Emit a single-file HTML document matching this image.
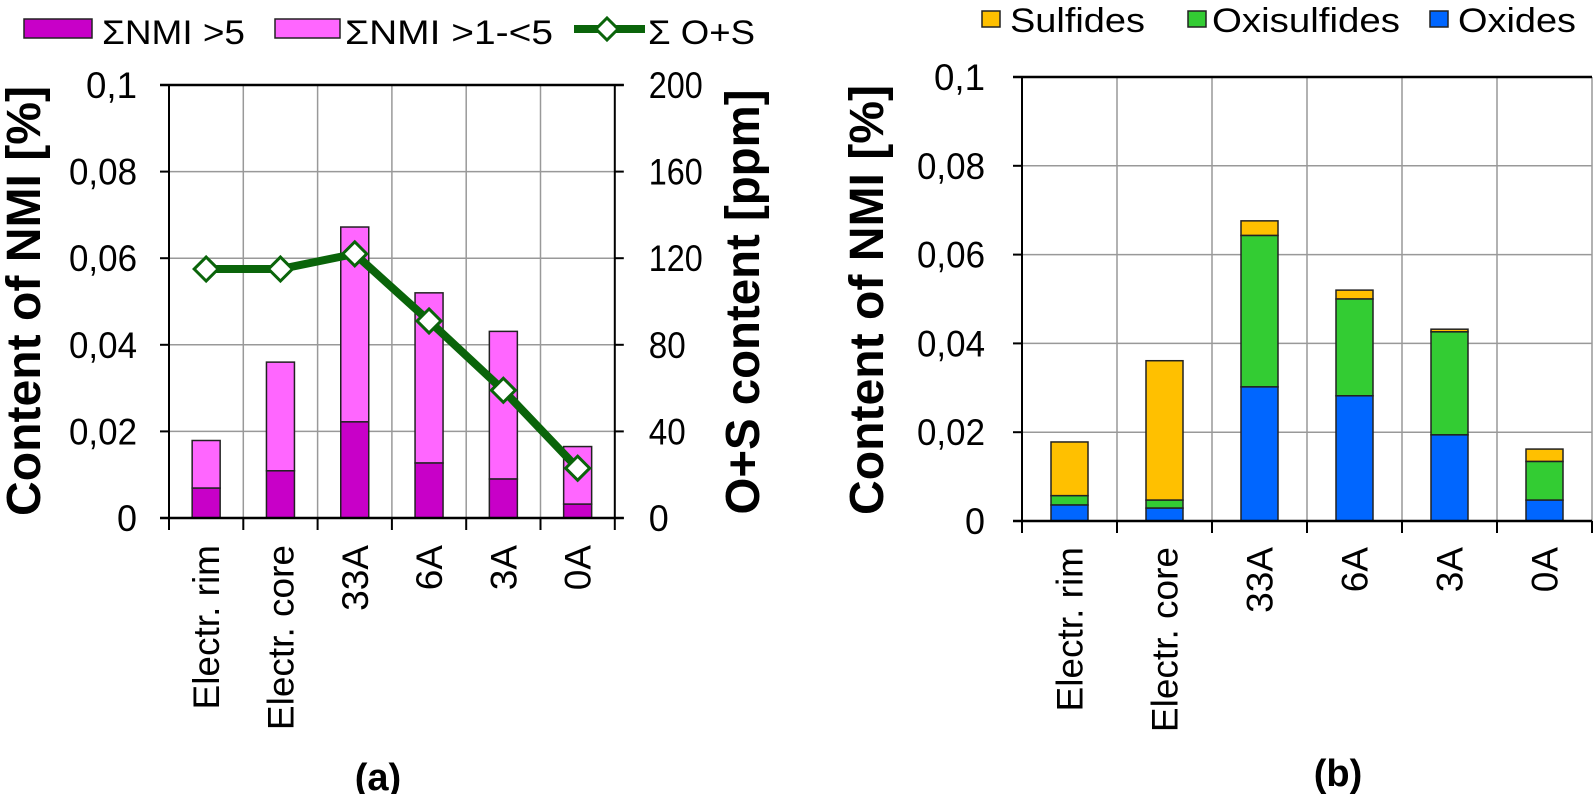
<!DOCTYPE html>
<html><head><meta charset="utf-8"><style>
body{margin:0;background:#fff;}
svg{display:block;font-family:"Liberation Sans",Arial,sans-serif;}
</style></head><body>
<svg id="s" width="1594" height="794" viewBox="0 0 1594 794"></svg>
<script>
const categories=["Electr. rim","Electr. core","33A","6A","3A","0A"];
const nmiGt5=[0.0069,0.0109,0.0222,0.0127,0.009,0.0032];
const nmiTotal=[0.0179,0.036,0.0672,0.052,0.0431,0.0165];
const osContent=[115,115,122,91,59,23];
const oxides=[0.0036,0.0029,0.0302,0.0282,0.0194,0.0047];
const oxisulfides=[0.0021,0.0018,0.0341,0.0218,0.0232,0.0087];
const sulfides=[0.0121,0.0314,0.0033,0.002,0.0006,0.0028];
const yTicks=["0","0,02","0,04","0,06","0,08","0,1"];
const y2Ticks=["0","40","80","120","160","200"];
const NS="http://www.w3.org/2000/svg";
const svg=document.getElementById('s');
function mk(tag,attrs,parent,text){const e=document.createElementNS(NS,tag);for(const k in attrs)e.setAttribute(k,attrs[k]);if(text!==undefined)e.textContent=text;(parent||svg).appendChild(e);return e;}
const TOP=85,BOT=518;
function yL(v){return BOT-(v/0.1)*(BOT-TOP);}
function y2L(v){return BOT-(v/200)*(BOT-TOP);}
const TOPR=77,BOTR=521;
function yR(v){return BOTR-(v/0.1)*(BOTR-TOPR);}
const AL=169,CWL=74.3,AR=1022,CWR=95;
function xL(i){return AL+CWL*(i+0.5);}
function xR(i){return AR+CWR*(i+0.5);}
function tw(s){return s.length<=1?20:(s.length*17);}

// ---- Chart A ----
const gA=mk('g',{});


for(let i=1;i<6;i++){const l=mk('line',{x1:AL+CWL*i,x2:AL+CWL*i,y1:TOP,y2:BOT,stroke:'#999','stroke-width':1.5},gA);}
const rightA=AL+CWL*6;
yTicks.forEach((t,i)=>{const v=i*0.02;const y=yL(v);
 if(i>0&&i<5){const g=mk('line',{x1:AL,x2:rightA,y1:y,y2:y,stroke:'#999','stroke-width':1.5},gA);}
 mk('line',{x1:AL-9,x2:AL,y1:y,y2:y,stroke:'#000','stroke-width':2},gA);
 const tx=mk('text',{x:AL-32,y:y+13,'font-size':37,'text-anchor':'end',textLength:tw(t),lengthAdjust:'spacingAndGlyphs'},gA,t);
 mk('line',{x1:rightA,x2:rightA+9,y1:y,y2:y,stroke:'#000','stroke-width':2},gA);
 const t2=mk('text',{x:rightA+34,y:y+13,'font-size':37,textLength:y2Ticks[i].length*17+3,lengthAdjust:'spacingAndGlyphs'},gA,y2Ticks[i]);
});
categories.forEach((c,i)=>{const x=xL(i),w=28;
 const b2=mk('rect',{x:x-w/2,y:yL(nmiTotal[i]),width:w,height:yL(nmiGt5[i])-yL(nmiTotal[i]),fill:'#ff66ff',stroke:'#222','stroke-width':1.5},gA);
 
 const b1=mk('rect',{x:x-w/2,y:yL(nmiGt5[i]),width:w,height:BOT-yL(nmiGt5[i]),fill:'#c800c8',stroke:'#222','stroke-width':1.5},gA);
 
 const lb=mk('text',{x:0,y:0,'font-size':37,'text-anchor':'end',transform:`translate(${x+13},545) rotate(-90)`},gA,c);
 
});
for(let i=0;i<=6;i++)mk('line',{x1:AL+CWL*i,x2:AL+CWL*i,y1:BOT,y2:BOT+12,stroke:'#000','stroke-width':2},gA);
mk('line',{x1:AL-9,x2:rightA+9,y1:TOP,y2:TOP,stroke:'#000','stroke-width':2.5},gA);
mk('line',{x1:AL,x2:AL,y1:TOP,y2:BOT,stroke:'#000','stroke-width':2},gA);
mk('line',{x1:rightA,x2:rightA,y1:TOP,y2:BOT,stroke:'#000','stroke-width':2},gA);
mk('line',{x1:AL-9,x2:rightA+9,y1:BOT,y2:BOT,stroke:'#000','stroke-width':2.5},gA);
const pts=osContent.map((v,i)=>`${xL(i)},${y2L(v)}`).join(' ');
const ln=mk('polyline',{points:pts,fill:'none',stroke:'#0a640a','stroke-width':8,'stroke-linejoin':'round'},gA);

osContent.forEach((v,i)=>{const x=xL(i),y=y2L(v),r=12;
 const m=mk('polygon',{points:`${x},${y-r} ${x+r},${y} ${x},${y+r} ${x-r},${y}`,fill:'#fff',stroke:'#0a640a','stroke-width':3},gA);
 });
const tA=mk('text',{x:0,y:0,'font-size':48,'font-weight':'bold','text-anchor':'middle',textLength:430,lengthAdjust:'spacingAndGlyphs',transform:'translate(40,301) rotate(-90)'},gA,'Content of NMI [%]');

const tA2=mk('text',{x:0,y:0,'font-size':48,'font-weight':'bold','text-anchor':'middle',textLength:425,lengthAdjust:'spacingAndGlyphs',transform:'translate(759,302) rotate(-90)'},gA,'O+S content [ppm]');

const capA=mk('text',{x:378,y:790,'font-size':38,'font-weight':'bold','text-anchor':'middle'},gA,'(a)');

// legend A
const lgA=mk('g',{},gA);
mk('rect',{x:24,y:19,width:68,height:19,fill:'#c800c8',stroke:'#222','stroke-width':1.5},lgA);
mk('text',{x:102,y:44,'font-size':34,textLength:143,lengthAdjust:'spacingAndGlyphs'},lgA,'ΣNMI >5');
mk('rect',{x:275,y:19,width:65,height:19,fill:'#ff66ff',stroke:'#222','stroke-width':1.5},lgA);
mk('text',{x:345,y:44,'font-size':34,textLength:208,lengthAdjust:'spacingAndGlyphs'},lgA,'ΣNMI >1-<5');
mk('line',{x1:574,x2:645,y1:29,y2:29,stroke:'#0a640a','stroke-width':8},lgA);
mk('polygon',{points:'607,18 618,29 607,40 596,29',fill:'#fff',stroke:'#0a640a','stroke-width':3},lgA);
mk('text',{x:648,y:44,'font-size':34,textLength:107,lengthAdjust:'spacingAndGlyphs'},lgA,'Σ O+S');

// ---- Chart B ----
const gB=mk('g',{});


const rightB=AR+CWR*6;
for(let i=1;i<=6;i++){const l=mk('line',{x1:AR+CWR*i,x2:AR+CWR*i,y1:TOPR,y2:BOTR,stroke:'#999','stroke-width':1.5},gB);}
yTicks.forEach((t,i)=>{const v=i*0.02;const y=yR(v);
 if(i>0&&i<5){const g=mk('line',{x1:AR,x2:rightB,y1:y,y2:y,stroke:'#999','stroke-width':1.5},gB);}
 mk('line',{x1:AR-9,x2:AR,y1:y,y2:y,stroke:'#000','stroke-width':2},gB);
 const tx=mk('text',{x:AR-37,y:y+13,'font-size':37,'text-anchor':'end',textLength:tw(t),lengthAdjust:'spacingAndGlyphs'},gB,t);
});
categories.forEach((c,i)=>{const x=xR(i),w=37;
 const o=oxides[i],os=o+oxisulfides[i],su=os+sulfides[i];
 const b3=mk('rect',{x:x-w/2,y:yR(su),width:w,height:yR(os)-yR(su),fill:'#ffc000',stroke:'#222','stroke-width':1.5},gB);
 
 const b2=mk('rect',{x:x-w/2,y:yR(os),width:w,height:yR(o)-yR(os),fill:'#33cc33',stroke:'#222','stroke-width':1.5},gB);
 
 const b1=mk('rect',{x:x-w/2,y:yR(o),width:w,height:BOTR-yR(o),fill:'#0066ff',stroke:'#222','stroke-width':1.5},gB);
 
 const lb=mk('text',{x:0,y:0,'font-size':37,'text-anchor':'end',transform:`translate(${x+13},547) rotate(-90)`},gB,c);
 
});
for(let i=0;i<=6;i++)mk('line',{x1:AR+CWR*i,x2:AR+CWR*i,y1:BOTR,y2:BOTR+12,stroke:'#000','stroke-width':2},gB);
mk('line',{x1:AR-9,x2:rightB,y1:TOPR,y2:TOPR,stroke:'#000','stroke-width':2.5},gB);
mk('line',{x1:AR,x2:AR,y1:TOPR,y2:BOTR,stroke:'#000','stroke-width':2},gB);
mk('line',{x1:AR-9,x2:rightB,y1:BOTR,y2:BOTR,stroke:'#000','stroke-width':2.5},gB);
const tB=mk('text',{x:0,y:0,'font-size':48,'font-weight':'bold','text-anchor':'middle',textLength:430,lengthAdjust:'spacingAndGlyphs',transform:'translate(883,300) rotate(-90)'},gB,'Content of NMI [%]');

const capB=mk('text',{x:1338,y:786,'font-size':38,'font-weight':'bold','text-anchor':'middle'},gB,'(b)');

const lgB=mk('g',{},gB);
mk('rect',{x:982,y:11,width:18,height:16,fill:'#ffc000',stroke:'#222','stroke-width':1.5},lgB);
mk('text',{x:1010,y:32,'font-size':34,textLength:135,lengthAdjust:'spacingAndGlyphs'},lgB,'Sulfides');
mk('rect',{x:1188,y:11,width:18,height:16,fill:'#33cc33',stroke:'#222','stroke-width':1.5},lgB);
mk('text',{x:1212,y:32,'font-size':34,textLength:188,lengthAdjust:'spacingAndGlyphs'},lgB,'Oxisulfides');
mk('rect',{x:1430,y:11,width:18,height:16,fill:'#0066ff',stroke:'#222','stroke-width':1.5},lgB);
mk('text',{x:1458,y:32,'font-size':34,textLength:118,lengthAdjust:'spacingAndGlyphs'},lgB,'Oxides');
</script>
</body></html>
